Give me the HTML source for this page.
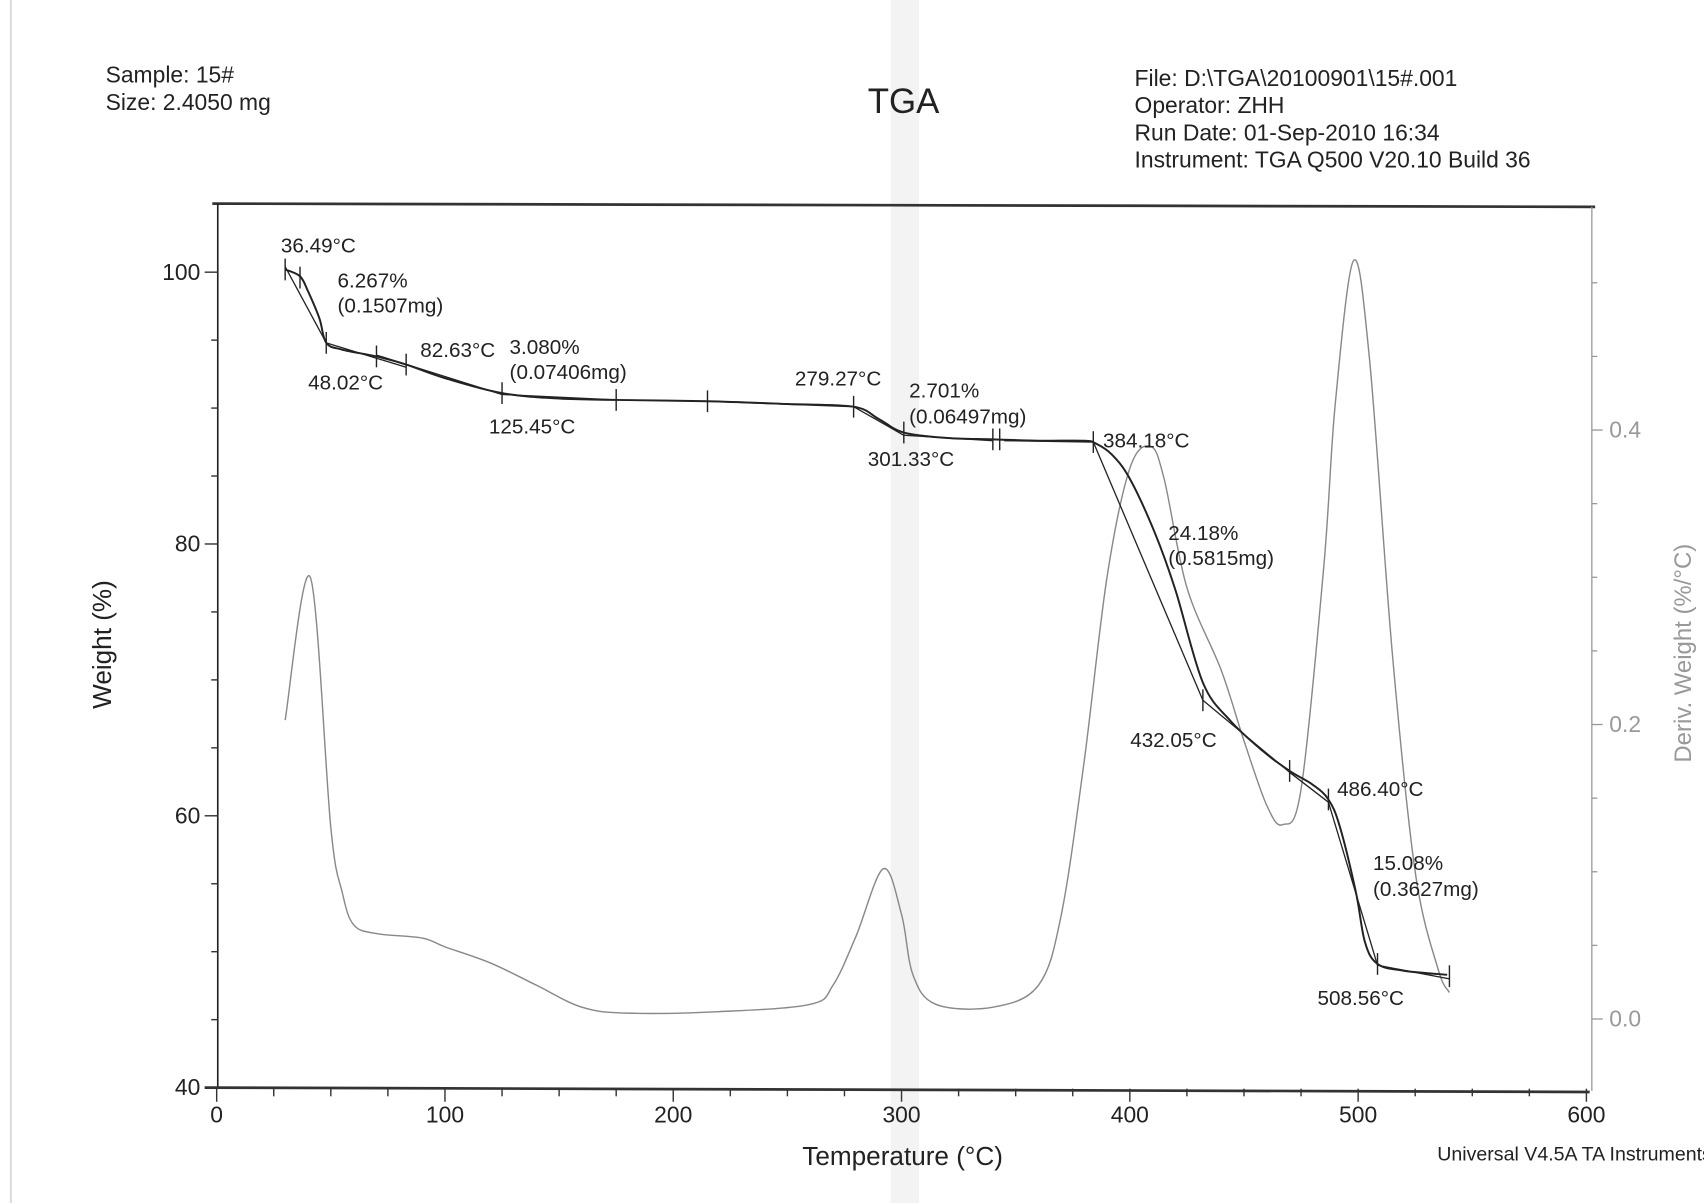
<!DOCTYPE html>
<html><head><meta charset="utf-8"><style>
html,body{margin:0;padding:0;background:#fff;}
svg{display:block;}
text{font-family:"Liberation Sans",Arial,sans-serif;fill:#222;}
</style></head><body>
<svg id="chart" width="1704" height="1203" viewBox="0 0 1565 1105" preserveAspectRatio="none" xmlns="http://www.w3.org/2000/svg">
<rect width="1565" height="1105" fill="#fff"/>
<rect x="818" y="0" width="26" height="1105" fill="#f3f3f3"/>
<line x1="10" y1="0" x2="10" y2="1105" stroke="#ddd" stroke-width="2"/>
<text x="97" y="76" font-size="21">Sample: 15#</text>
<text x="97" y="101" font-size="21">Size:  2.4050 mg</text>
<text x="797" y="104" font-size="32">TGA</text>
<text x="1042" y="79" font-size="21">File: D:\TGA\20100901\15#.001</text>
<text x="1042" y="104" font-size="21">Operator: ZHH</text>
<text x="1042" y="129" font-size="21">Run Date: 01-Sep-2010 16:34</text>
<text x="1042" y="154" font-size="21">Instrument: TGA Q500 V20.10 Build 36</text>
<line x1="195" y1="187" x2="1465" y2="190" stroke="#333" stroke-width="2.5"/>
<line x1="200" y1="187" x2="200" y2="1000" stroke="#222" stroke-width="1.5"/>
<line x1="1462" y1="190" x2="1462" y2="1002" stroke="#999" stroke-width="1.2"/>
<line x1="188" y1="999" x2="1460" y2="1003" stroke="#333" stroke-width="2.5"/>
<g id="axes"></g>
<g id="deriv"></g>
<g id="weight"></g>
<g id="annot" font-size="19">
<text x="258" y="232">36.49°C</text>
<text x="310" y="264">6.267%</text>
<text x="310" y="287">(0.1507mg)</text>
<text x="283" y="358">48.02°C</text>
<text x="386" y="328">82.63°C</text>
<text x="468" y="325">3.080%</text>
<text x="468" y="348">(0.07406mg)</text>
<text x="449" y="398">125.45°C</text>
<text x="730" y="354">279.27°C</text>
<text x="835" y="365">2.701%</text>
<text x="835" y="389">(0.06497mg)</text>
<text x="797" y="428">301.33°C</text>
<text x="1013" y="411">384.18°C</text>
<text x="1073" y="496">24.18%</text>
<text x="1073" y="519">(0.5815mg)</text>
<text x="1038" y="686">432.05°C</text>
<text x="1228" y="731">486.40°C</text>
<text x="1261" y="799">15.08%</text>
<text x="1261" y="823">(0.3627mg)</text>
<text x="1210" y="923">508.56°C</text>
</g>
<text x="829" y="1070" font-size="24" text-anchor="middle">Temperature (°C)</text>
<text transform="translate(102,592) rotate(-90)" font-size="24" text-anchor="middle">Weight (%)</text>
<text transform="translate(1553,600) rotate(-90)" font-size="22" text-anchor="middle" style="fill:#999">Deriv. Weight (%/°C)</text>
<text x="1320" y="1066" font-size="18">Universal V4.5A TA Instruments</text>
</svg>
<script>
const NS="http://www.w3.org/2000/svg";
const xTicks=[0,100,200,300,400,500,600];
const yTicks=[40,60,80,100];
const y2Ticks=[0.0,0.2,0.4];
const weightT=[30,36.5,40,45,48,55,70,83,100,125,150,175,215,250,279,290,301,320,340,360,380,385,392,400,411,420,432,444,458,470,480,487,492,499,503,508.5,520,539];
const weightW=[100.2,99.7,98.6,96.6,94.8,94.3,93.8,93.2,92.2,91.1,90.7,90.6,90.5,90.3,90.1,89.2,88.2,87.8,87.7,87.6,87.6,87.4,86.6,84.8,80.8,76.6,69.8,67.0,64.8,63.3,62.3,61.2,59.2,54.4,50.7,49.1,48.6,48.3];
const derivT=[30,41,50,55,60,70,90,100,120,140,160,180,220,260,270,280,292,300,305,315,340,360,370,380,390,400,409,415,425,440,450,460,467,475,485,490,498,505,515,525,535,540];
const derivD=[0.203,0.300,0.130,0.086,0.064,0.058,0.055,0.049,0.038,0.023,0.008,0.004,0.005,0.010,0.023,0.056,0.102,0.071,0.030,0.010,0.008,0.023,0.071,0.175,0.300,0.374,0.389,0.367,0.293,0.237,0.189,0.145,0.132,0.156,0.308,0.418,0.515,0.448,0.248,0.100,0.034,0.018];
const xS=t=>199+t*(1457-199)/600;
const yS=w=>999-(w-40)*(999-250)/60;
const y2S=d=>936-d*1352.5;
function mk(tag,attrs,parent){const e=document.createElementNS(NS,tag);for(const k in attrs)e.setAttribute(k,attrs[k]);parent.appendChild(e);return e;}
const ax=document.getElementById('axes');
for(let t=0;t<=600;t+=25){const l=mk('line',{x1:xS(t),x2:xS(t),y1:1000,y2:t%100===0?1012:1007,stroke:'#333','stroke-width':1.3},ax);

}
xTicks.forEach(t=>{const e=mk('text',{x:xS(t),y:1031,'font-size':21,'text-anchor':'middle'},ax);e.textContent=t;

});
for(let w=40;w<=100;w+=5){const l=mk('line',{x1:w%20===0?188:194,x2:200,y1:yS(w),y2:yS(w),stroke:'#333','stroke-width':1.3},ax);

}
yTicks.forEach(w=>{const e=mk('text',{x:184,y:yS(w)+7,'font-size':21,'text-anchor':'end'},ax);e.textContent=w;

});
for(let i=-1;i<=10;i++){const d=i*0.05;const y=y2S(d);if(y<190||y>1000)continue;const l=mk('line',{x1:1462,x2:i%4===0?1472:1467,y1:y,y2:y,stroke:'#999','stroke-width':1.2},ax);

}
y2Ticks.forEach(d=>{const e=mk('text',{x:1478,y:y2S(d)+7,'font-size':21,style:'fill:#999'},ax);e.textContent=d.toFixed(1);

});
function smooth(pts){let s='M'+pts[0][0]+','+pts[0][1];for(let i=0;i<pts.length-1;i++){const p0=pts[i-1]||pts[i],p1=pts[i],p2=pts[i+1],p3=pts[i+2]||p2;
s+=' C'+(p1[0]+(p2[0]-p0[0])/6)+','+(p1[1]+(p2[1]-p0[1])/6)+' '+(p2[0]-(p3[0]-p1[0])/6)+','+(p2[1]-(p3[1]-p1[1])/6)+' '+p2[0]+','+p2[1];}return s;}
const dp=mk('path',{d:smooth(derivT.map((t,i)=>[xS(t),y2S(derivD[i])])),fill:'none',stroke:'#888','stroke-width':1.3},document.getElementById('deriv'));


const wg=document.getElementById('weight');
const wp=mk('path',{d:smooth(weightT.map((t,i)=>[xS(t),yS(weightW[i])])),fill:'none',stroke:'#222','stroke-width':1.8},wg);


const tangents=[[30,100.4,48,94.8],[48,94.8,83,93.0],[70,93.9,125,91.0],[125,91.0,175,90.6],[215,90.5,279,90.1],[279,90.1,301,88.0],[301,88.0,340,87.6],[345,87.6,384,87.5],[384,87.5,432,68.5],[432,68.5,470,63.2],[470,63.2,487,61.0],[487,61.0,508.5,49.0],[508.5,49.0,540,48.0]];
tangents.forEach(a=>{const l=mk('line',{x1:xS(a[0]),y1:yS(a[1]),x2:xS(a[2]),y2:yS(a[3]),stroke:'#222','stroke-width':1.2},wg);

});
const markT=[[30,100.2],[36.5,99.6],[48,94.8],[70,93.8],[83,93.2],[125,91.1],[175,90.6],[215,90.5],[279,90.1],[301,88.2],[340,87.7],[343,87.7],[384,87.5],[432,68.5],[470,63.3],[487,61.2],[508.5,49.1],[540,48.2]];
markT.forEach(m=>{const x=xS(m[0]),y=yS(m[1]);const l=mk('line',{x1:x,x2:x,y1:y-10,y2:y+10,stroke:'#222','stroke-width':1.3},wg);

});
</script>
</body></html>
